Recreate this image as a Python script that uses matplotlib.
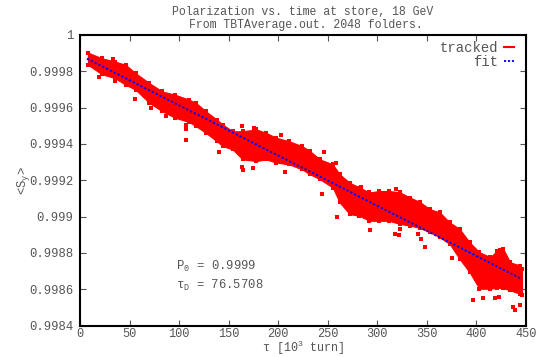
import matplotlib
matplotlib.use('Agg')
import matplotlib.pyplot as plt
from matplotlib.lines import Line2D

plt.rcParams['font.family'] = ['Liberation Mono', 'DejaVu Sans Mono']
plt.rcParams['mathtext.fontset'] = 'custom'
plt.rcParams['mathtext.rm'] = 'Liberation Mono'
plt.rcParams['mathtext.it'] = 'Liberation Mono'

# envelope of the tracked cloud, tau in 10^3 turns
tau = [8, 22, 35, 46, 56, 70, 83, 96, 110, 117, 127, 138, 144, 154, 164,
       178, 188, 198, 211, 224, 232, 242, 255, 262, 272, 282, 292, 302,
       312, 323, 333, 343, 353, 363, 373, 383, 393, 403, 414, 421, 427,
       434, 444, 446]
upper = [0.999903, 0.999872, 0.999854, 0.999836, 0.999790, 0.999735,
         0.999689, 0.999671, 0.999644, 0.999626, 0.999580, 0.999534,
         0.999507, 0.999470, 0.999470, 0.999480, 0.999461, 0.999434,
         0.999415, 0.999388, 0.999361, 0.999315, 0.999288, 0.999233,
         0.999187, 0.999160, 0.999133, 0.999141, 0.999141, 0.999133,
         0.999105, 0.999080, 0.999041, 0.999023, 0.998968, 0.998932,
         0.998859, 0.998804, 0.998777, 0.998813, 0.998822, 0.998749,
         0.998730, 0.998712]
lower = [0.999836, 0.999784, 0.999763, 0.999726, 0.999699, 0.999626,
         0.999580, 0.999544, 0.999521, 0.999498, 0.999461, 0.999415,
         0.999388, 0.999370, 0.999315, 0.999306, 0.999315, 0.999297,
         0.999288, 0.999260, 0.999233, 0.999206, 0.999160, 0.999078,
         0.999014, 0.999004, 0.998977, 0.998977, 0.998977, 0.998959,
         0.998951, 0.998937, 0.998914, 0.998886, 0.998849, 0.998767,
         0.998694, 0.998603, 0.998603, 0.998608, 0.998606, 0.998594,
         0.998575, 0.998566]

# stray points outside the dense band
out_tau = [18.9, 35.1, 55.3, 72.1, 86.3, 107.2, 107.2, 107.2, 33.1, 163.5,
           176.0, 140.6, 163.5, 164.1, 174.2, 207.3, 203.0, 244.0, 259.6,
           258.6, 283.9, 292.2, 318.5, 322.6, 321.9, 317.5, 341.1, 246.4,
           347.9, 344.5, 396.7, 406.2, 418.6, 423.0, 423.7, 437.2, 438.9,
           443.9, 376.5, 374.9]
out_P = [0.999766, 0.999744, 0.999649, 0.999598, 0.999556, 0.999507,
         0.999483, 0.999421, 0.999869, 0.999498, 0.999489, 0.999355,
         0.999273, 0.999256, 0.999270, 0.999248, 0.999447, 0.999127,
         0.998999, 0.999297, 0.999163, 0.998928, 0.999151, 0.998932,
         0.998899, 0.998904, 0.998904, 0.999355, 0.998835, 0.998877,
         0.998539, 0.998552, 0.998554, 0.998555, 0.998818, 0.998503,
         0.998484, 0.998515, 0.998941, 0.998774]

fit_tau = [7, 446]
fit_P = [0.99987, 0.998656]

P0 = '0.9999'
tauD = '76.5708'

txt = '#555555'
fig = plt.figure(figsize=(5.42, 3.57), dpi=100)
ax = fig.add_axes([0.1476, 0.088, 0.8229, 0.814])

ax.fill_between(tau, lower, upper, color='red', lw=0.8, edgecolor='red')
# ragged edges of the cloud
ax.plot(tau, upper, 's', color='red', ms=3, mew=0)
ax.plot(tau, lower, 's', color='red', ms=3, mew=0)
ax.plot(out_tau, out_P, 's', color='red', ms=2.6, mew=0)
ax.plot(fit_tau, fit_P, color='blue', lw=1.4, dashes=(1.2, 1.0))

ax.set_xlim(0, 450)
ax.set_ylim(0.9984, 1.0)
ax.set_xticks(range(0, 451, 50))
yt = [0.9984, 0.9986, 0.9988, 0.999, 0.9992, 0.9994, 0.9996, 0.9998, 1]
ax.set_yticks(yt)
ax.set_yticklabels(['0.9984', '0.9986', '0.9988', '0.999', '0.9992',
                    '0.9994', '0.9996', '0.9998', '1'])
ax.tick_params(direction='in', top=True, right=True, length=4, width=0.8,
               labelsize=8.8, labelcolor=txt, color='#555555')
ax.tick_params(axis='y', pad=5)
ax.tick_params(axis='x', pad=2, labelsize=8.6)
for s in ax.spines.values():
    s.set_linewidth(1.5)

ax.set_xlabel(r'$\tau$ [10$^3$ turn]', fontsize=8.5, color=txt, labelpad=-1)
ax.set_ylabel(r'<S$_y$>', fontsize=8.8, color=txt, labelpad=-2)

fig.text(0.559, 0.966, 'Polarization vs. time at store, 18 GeV',
         ha='center', va='center', fontsize=8.3, color=txt)
fig.text(0.565, 0.931, 'From TBTAverage.out. 2048 folders.',
         ha='center', va='center', fontsize=8.3, color=txt)

ax.text(0.215, 0.19, r'P$_0$ = ' + P0, transform=ax.transAxes,
        fontsize=8.8, color=txt)
ax.text(0.215, 0.127, r'$\tau_D$ = ' + tauD, transform=ax.transAxes,
        fontsize=8.8, color=txt)

handles = [Line2D([], [], color='red', lw=1.5),
           Line2D([], [], color='blue', lw=1.3, dashes=(1.2, 1.0))]
leg = ax.legend(handles, ['tracked', 'fit'], loc='upper right',
                frameon=False, markerfirst=False, handlelength=0.7,
                handletextpad=0.4, fontsize=10, labelspacing=0.0,
                borderaxespad=0.0, borderpad=0.4,
                bbox_to_anchor=(0.985, 1.0))
for t in leg.get_texts():
    t.set_color(txt)

fig.savefig('out.png', dpi=100)
